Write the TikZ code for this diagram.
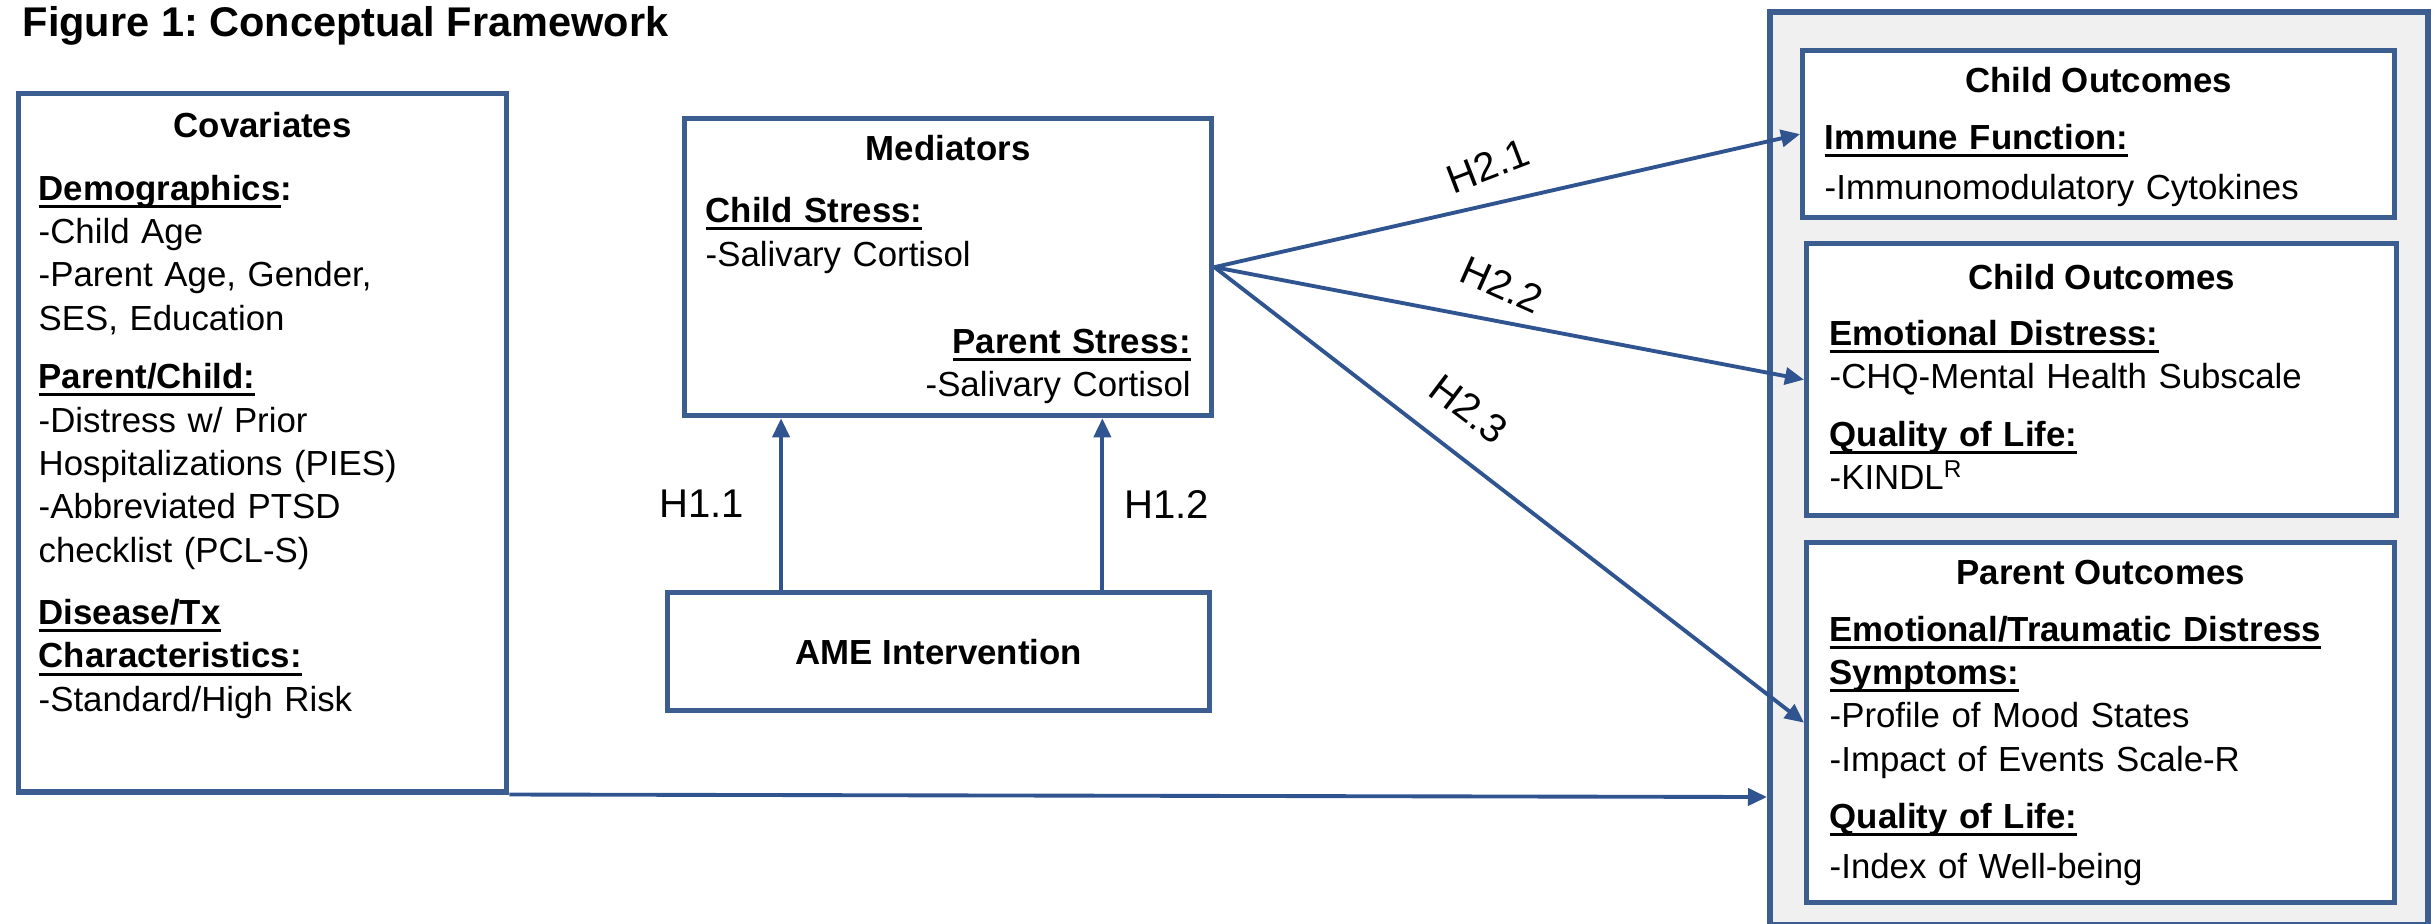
\documentclass[tikz,border=0pt]{standalone}
\usepackage{fontspec}
\setmainfont{Liberation Sans}
\usetikzlibrary{arrows.meta,calc,positioning}
\definecolor{boxblue}{HTML}{3B5D8F}
\definecolor{arrblue}{HTML}{2F5490}
\definecolor{panelgray}{HTML}{F0F0F0}
\newsavebox{\hdbox}
\newcommand{\hd}[1]{\leavevmode\sbox{\hdbox}{\textbf{#1}}\rlap{\rule[-2.2pt]{\wd\hdbox}{0.8pt}}\usebox{\hdbox}}
\frenchspacing

\begin{document}
\begin{tikzpicture}[x=0.01cm, y=-0.01cm,
    box/.style={draw=boxblue, line width=1.45pt, fill=white, anchor=north west, inner sep=0pt},
    head/.style={font=\fontsize{9.9}{12.3}\selectfont\bfseries, anchor=base, inner sep=0pt},
    body/.style={font=\fontsize{9.9}{12.35}\selectfont, anchor=base west, align=left, text width=#1, inner sep=0pt},
    body/.default=5.6cm,
    hlab/.style={font=\fontsize{11.4}{13}\selectfont, inner sep=0pt},
    arr/.style={draw=arrblue, line width=1.1pt, -{Triangle[length=0.19cm,width=0.17cm]}}]
  \useasboundingbox (0,0) rectangle (2435,923);

  \node[anchor=base west, inner sep=0pt, font=\fontsize{11.8}{14}\selectfont\bfseries] (title) at (22,36) {Figure 1: Conceptual Framework};

  % covariates
  \node[box, minimum width=4.88cm, minimum height=6.98cm] (cov) at (16,91) {};
  \node[head] (covhead) at ([yshift=-0.46cm]cov.north) {Covariates};
  \node[body=4.6cm] (covtxt) at ([xshift=0.22cm, yshift=-1.09cm]cov.north west) {%
    \hd{Demographics}\textbf{:}\\
    -Child Age\\
    -Parent Age, Gender,\\
    SES, Education\\[4.2pt]
    \hd{Parent/Child:}\\
    -Distress w/ Prior\\
    Hospitalizations (PIES)\\
    -Abbreviated PTSD\\
    checklist (PCL-S)\\[5.3pt]
    \hd{Disease/Tx}\\
    \hd{Characteristics:}\\
    -Standard/High Risk};

  % mediators and intervention
  \node[box, minimum width=5.27cm, minimum height=2.97cm] (med) at (682,116) {};
  \node[head] (medhead) at ([yshift=-0.44cm]med.north) {Mediators};
  \node[body=2.8cm] (childstress) at ([xshift=0.23cm, yshift=-1.06cm]med.north west) {%
    \hd{Child Stress:}\\[0.15pt]
    -Salivary Cortisol};
  \node[body=2.8cm, anchor=base east, align=right] (parentstress) at ([xshift=-0.23cm, yshift=-2.37cm]med.north east) {%
    \hd{Parent Stress:}\\
    -Salivary Cortisol};

  \node[box, minimum width=5.42cm, minimum height=1.18cm, font=\fontsize{9.9}{12.3}\selectfont\bfseries] (ame) at (665,590) {AME Intervention};

  % outcomes
  \node[box, fill=panelgray, line width=1.7pt, minimum width=6.58cm, minimum height=9.12cm] (outer) at (1767,9) {};

  \node[box, minimum width=5.92cm, minimum height=1.67cm] (co1) at (1800,48) {};
  \node[head] (co1head) at ([yshift=-0.44cm]co1.north) {Child Outcomes};
  \node[body] (co1txt) at ([xshift=0.24cm, yshift=-1.01cm]co1.north west) {%
    \hd{Immune Function:}\\[1.85pt]
    -Immunomodulatory Cytokines};

  \node[box, minimum width=5.9cm, minimum height=2.72cm] (co2) at (1804,241) {};
  \node[head] (co2head) at ([yshift=-0.48cm]co2.north) {Child Outcomes};
  \node[body] (co2txt) at ([xshift=0.25cm, yshift=-1.04cm]co2.north west) {%
    \hd{Emotional Distress:}\\
    -CHQ-Mental Health Subscale\\[4.1pt]
    \hd{Quality of Life:}\\
    -KINDL\textsuperscript{R}};

  \node[box, minimum width=5.88cm, minimum height=3.6cm] (po) at (1804,540) {};
  \node[head] (pohead) at ([yshift=-0.44cm]po.north) {Parent Outcomes};
  \node[body] (potxt) at ([xshift=0.25cm, yshift=-1.01cm]po.north west) {%
    \hd{Emotional/Traumatic Distress}\\
    \hd{Symptoms:}\\
    -Profile of Mood States\\
    -Impact of Events Scale-R\\[3.8pt]
    \hd{Quality of Life:}\\[1.85pt]
    -Index of Well-being};

  % hypotheses
  \coordinate (h11) at ($(ame.north west)!0.212!(ame.north east)$);
  \coordinate (h12) at ($(ame.north west)!0.799!(ame.north east)$);
  \draw[arr] (h11) -- node[hlab, left=0.35cm] (h11lab) {H1.1} (h11 |- med.south);
  \draw[arr] (h12) -- node[hlab, right=0.2cm] (h12lab) {H1.2} (h12 |- med.south);

  \draw[arr] (med.east) -- (co1.west);
  \draw[arr] (med.east) -- (co2.west);
  \draw[arr] (med.east) -- (po.west);
  \node[hlab, rotate=21] (h21lab) at (1488,166) {H2.1};
  \node[hlab, rotate=-24] (h22lab) at (1502,285) {H2.2};
  \node[hlab, rotate=-37] (h23lab) at (1469,409) {H2.3};

  \coordinate (covlvl) at (0,797);
  \draw[arr] (cov.south east) -- (outer.west |- covlvl);
\end{tikzpicture}
\end{document}
